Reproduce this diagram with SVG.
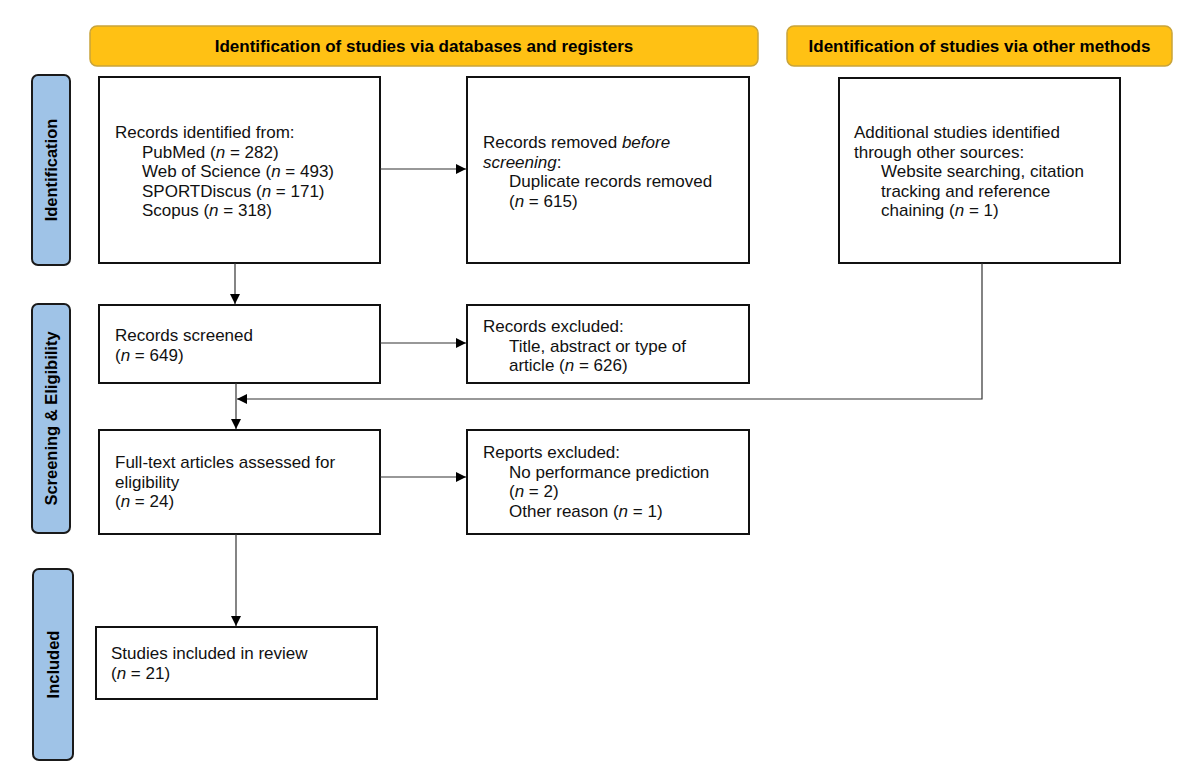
<svg xmlns="http://www.w3.org/2000/svg" width="1200" height="773" viewBox="0 0 1200 773">
<defs>
<marker id="arr" viewBox="0 0 10 10" refX="10" refY="5" markerWidth="10" markerHeight="10" markerUnits="userSpaceOnUse" orient="auto">
<path d="M0,0 L10,5 L0,10 Z" fill="#000"/>
</marker>
<style>
.banner{fill:#FFC114;stroke:#C9A43A;stroke-width:1.5}
.side{fill:#9FC3E7;stroke:#1a1a1a;stroke-width:2}
.box{fill:#fff;stroke:#111;stroke-width:2}
.bt{font-family:"Liberation Sans",Arial,sans-serif;font-weight:bold;font-size:17px;fill:#000;text-anchor:middle}
.st{font-family:"Liberation Sans",Arial,sans-serif;font-weight:bold;font-size:16.5px;fill:#000;text-anchor:middle}
.t{font-family:"Liberation Sans",Arial,sans-serif;font-size:17px;fill:#111}
.c{fill:none;stroke:#333;stroke-width:1.2}
</style>
</defs>
<rect width="1200" height="773" fill="#fff"/>

<g id="banner-databases"><rect class="banner" x="90" y="26" width="668" height="40" rx="7"/><text class="bt" x="424" y="52">Identification of studies via databases and registers</text></g>
<g id="banner-other"><rect class="banner" x="787" y="26" width="385" height="40" rx="7"/><text class="bt" x="979.5" y="52">Identification of studies via other methods</text></g>

<g id="side-identification"><rect class="side" x="32" y="75" width="38" height="190" rx="6"/><text class="st" transform="translate(57,170) rotate(-90)">Identification</text></g>
<g id="side-screening"><rect class="side" x="32" y="304" width="38" height="229" rx="6"/><text class="st" transform="translate(57,418.5) rotate(-90)">Screening &amp; Eligibility</text></g>
<g id="side-included"><rect class="side" x="33" y="569" width="40" height="191" rx="6"/><text class="st" transform="translate(59,664.5) rotate(-90)">Included</text></g>

<g id="records-identified"><rect class="box" x="99" y="77" width="281" height="186"/>
<text class="t" x="115" y="138">Records identified from:</text>
<text class="t" x="142" y="157.5">PubMed (<tspan font-style="italic">n</tspan> = 282)</text>
<text class="t" x="142" y="177">Web of Science (<tspan font-style="italic">n</tspan> = 493)</text>
<text class="t" x="142" y="196.5">SPORTDiscus (<tspan font-style="italic">n</tspan> = 171)</text>
<text class="t" x="142" y="216">Scopus (<tspan font-style="italic">n</tspan> = 318)</text>
</g>
<g id="records-removed"><rect class="box" x="467" y="77" width="282" height="186"/>
<text class="t" x="483" y="148">Records removed <tspan font-style="italic">before</tspan></text>
<text class="t" x="483" y="167.5"><tspan font-style="italic">screening</tspan>:</text>
<text class="t" x="509" y="187">Duplicate records removed</text>
<text class="t" x="509" y="206.5">(<tspan font-style="italic">n</tspan> = 615)</text>
</g>
<g id="other-sources"><rect class="box" x="839" y="78" width="281" height="185"/>
<text class="t" x="854" y="138">Additional studies identified</text>
<text class="t" x="854" y="157.5">through other sources:</text>
<text class="t" x="881" y="177">Website searching, citation</text>
<text class="t" x="881" y="196.5">tracking and reference</text>
<text class="t" x="881" y="216">chaining (<tspan font-style="italic">n</tspan> = 1)</text>
</g>
<g id="records-screened"><rect class="box" x="99" y="305" width="281" height="78"/>
<text class="t" x="115" y="341">Records screened</text>
<text class="t" x="115" y="360.5">(<tspan font-style="italic">n</tspan> = 649)</text>
</g>
<g id="records-excluded"><rect class="box" x="467" y="305" width="282" height="78"/>
<text class="t" x="483" y="332">Records excluded:</text>
<text class="t" x="509" y="351.5">Title, abstract or type of</text>
<text class="t" x="509" y="371">article (<tspan font-style="italic">n</tspan> = 626)</text>
</g>
<g id="full-text"><rect class="box" x="99" y="430" width="281" height="104"/>
<text class="t" x="115" y="468">Full-text articles assessed for</text>
<text class="t" x="115" y="487.5">eligibility</text>
<text class="t" x="115" y="507">(<tspan font-style="italic">n</tspan> = 24)</text>
</g>
<g id="reports-excluded"><rect class="box" x="467" y="430" width="282" height="104"/>
<text class="t" x="483" y="458">Reports excluded:</text>
<text class="t" x="509" y="477.5">No performance prediction</text>
<text class="t" x="509" y="497">(<tspan font-style="italic">n</tspan> = 2)</text>
<text class="t" x="509" y="516.5">Other reason (<tspan font-style="italic">n</tspan> = 1)</text>
</g>
<g id="studies-included"><rect class="box" x="96" y="627" width="281" height="72"/>
<text class="t" x="111" y="659">Studies included in review</text>
<text class="t" x="111" y="678.5">(<tspan font-style="italic">n</tspan> = 21)</text>
</g>

<g id="connectors">
<line class="c" x1="380" y1="169" x2="466" y2="169" marker-end="url(#arr)"/>
<line class="c" x1="235" y1="263" x2="235" y2="304" marker-end="url(#arr)"/>
<line class="c" x1="380" y1="343" x2="466" y2="343" marker-end="url(#arr)"/>
<line class="c" x1="236" y1="383" x2="236" y2="429" marker-end="url(#arr)"/>
<polyline class="c" points="982,263 982,399 237,399" marker-end="url(#arr)"/>
<line class="c" x1="380" y1="477" x2="466" y2="477" marker-end="url(#arr)"/>
<line class="c" x1="236" y1="534" x2="236" y2="626" marker-end="url(#arr)"/>
</g>
</svg>
